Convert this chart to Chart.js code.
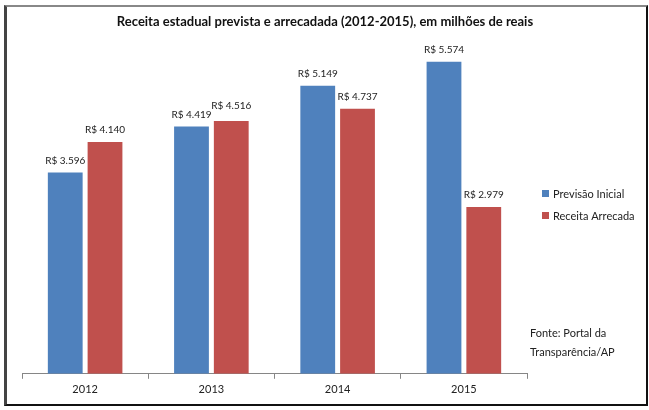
<!DOCTYPE html>
<html>
<head>
<meta charset="utf-8">
<script src="https://cdn.jsdelivr.net/npm/chart.js@4"></script>
<style>
  html, body { margin: 0; padding: 0; background: #fff; }
  #frame {
    position: absolute; left: 4px; top: 5px; width: 639px; height: 397px;
    border-top: 2px solid #888; border-left: 3px solid #444;
    border-right: 2px solid #111; border-bottom: 2px solid #111;
  }
  #wrap { position: absolute; left: 0; top: 0; width: 649px; height: 410px; }
</style>
</head>
<body>
<div id="frame"></div>
<div id="wrap"><canvas id="grafico" width="649" height="410"></canvas></div>
<script>
// Dados do gráfico
const anos = ['2012', '2013', '2014', '2015'];
const previsaoInicial = [3596, 4419, 5149, 5574];
const receitaArrecadada = [4140, 4516, 4737, 2979];
const nomesSeries = ['Previsão Inicial', 'Receita Arrecada'];
const titulo = 'Receita estadual prevista e arrecadada (2012-2015), em milhões de reais';
const fonte = ['Fonte: Portal da', 'Transparência/AP'];

const fonteTexto = 'Lato, "Open Sans", sans-serif';

function formataReais(v) {
    return 'R$ ' + v.toLocaleString('pt-BR');
}

// Rótulos de valor em cima das barras
const rotulosPlugin = {
    id: 'rotulos',
    afterDatasetsDraw(chart) {
        const ctx = chart.ctx;
        ctx.save();
        ctx.font = '10px ' + fonteTexto;
        ctx.fillStyle = '#222';
        ctx.textAlign = 'center';
        ctx.textBaseline = 'bottom';
        chart.data.datasets.forEach((ds, i) => {
            chart.getDatasetMeta(i).data.forEach((bar, j) => {
                // o Excel subiu um pouco o rótulo de 2013 para não encostar no vizinho
                const extra = (i === 1 && j === 1) ? 3 : 0;
                ctx.fillText(formataReais(ds.data[j]), bar.x, bar.y - 7 - extra);
            });
        });
        ctx.restore();
    }
};

// Título, legenda e fonte
const textosPlugin = {
    id: 'textos',
    afterDraw(chart) {
        const ctx = chart.ctx;
        ctx.save();
        ctx.fillStyle = '#111';
        ctx.font = 'bold 13px ' + fonteTexto;
        ctx.textAlign = 'center';
        ctx.textBaseline = 'middle';
        ctx.fillText(titulo, 325, 22);

        ctx.textAlign = 'left';
        ctx.font = '11px ' + fonteTexto;
        chart.data.datasets.forEach((ds, i) => {
            const y = 194 + i * 22;
            ctx.fillStyle = ds.backgroundColor;
            ctx.fillRect(542, y - 4, 7, 7);
            ctx.fillStyle = '#222';
            ctx.fillText(ds.label, 553, y);
        });
        fonte.forEach((linha, i) => {
            ctx.fillText(linha, 530, 333 + i * 19);
        });
        ctx.restore();
    }
};

const ctx = document.getElementById('grafico').getContext('2d');
const grafico = new Chart(ctx, {
    type: 'bar',
    data: {
        labels: anos,
        datasets: [{
            label: nomesSeries[0],
            data: previsaoInicial,
            backgroundColor: '#4F81BD'
        }, {
            label: nomesSeries[1],
            data: receitaArrecadada,
            backgroundColor: '#C0504D'
        }]
    },
    options: {
        responsive: false,
        animation: false,
        events: [],
        categoryPercentage: 0.63,
        barPercentage: 0.875,
        layout: {
            padding: { left: 22, right: 122, top: 38, bottom: 10 }
        },
        scales: {
            x: {
                grid: {
                    drawOnChartArea: false,
                    drawTicks: true,
                    tickLength: 5,
                    offset: true,
                    color: '#868686'
                },
                border: { color: '#868686' },
                ticks: {
                    color: '#222',
                    padding: 4,
                    font: { family: fonteTexto, size: 11 }
                }
            },
            y: {
                display: false,
                min: 0,
                max: 6000
            }
        },
        plugins: {
            title: { display: false },
            legend: { display: false },
            tooltip: { enabled: false }
        }
    },
    plugins: [rotulosPlugin, textosPlugin]
});
</script>
</body>
</html>
